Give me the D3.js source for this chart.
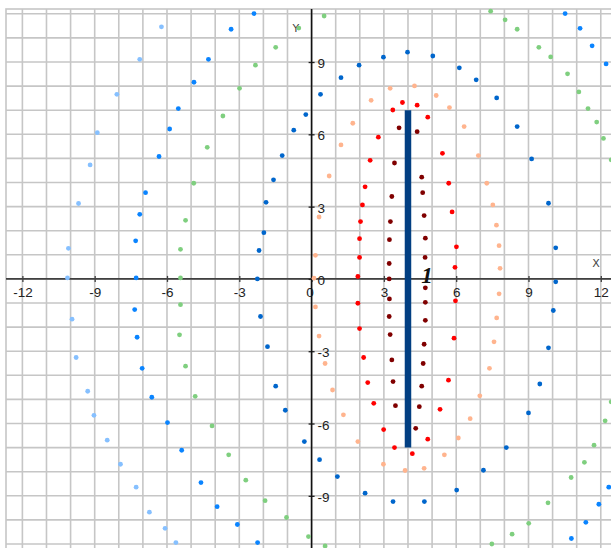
<!DOCTYPE html>
<html><head><meta charset="utf-8">
<script src="https://cdn.jsdelivr.net/npm/d3@7"></script>
<style>html,body{margin:0;padding:0;background:#fff;overflow:hidden}svg{display:block}</style>
</head><body><svg id="c" width="611" height="548"></svg>
<script>
// ---- data ----
const xTicks = [-12, -9, -6, -3, 0, 3, 6, 9, 12];
const yTicks = [-9, -6, -3, 0, 3, 6, 9];
const xTickLabels = ["-12", "-9", "-6", "-3", "0", "3", "6", "9", "12"];
const yTickLabels = ["-9", "-6", "-3", "0", "3", "6", "9"];

const darkRed = [[3.63,6.27],[3.44,4.81],[3.33,3.42],[3.27,2.38],[3.23,1.63],[3.22,0.64],[3.22,0.0],[3.23,-0.83],[3.22,-1.56],[3.26,-2.31],[3.33,-3.36],[3.38,-4.26],[3.48,-5.26],
  [4.38,6.11],[4.57,4.22],[4.61,3.58],[4.67,2.63],[4.72,1.69],[4.71,0.89],[4.72,-0.37],[4.72,-0.97],[4.72,-1.72],[4.67,-2.71],[4.63,-3.51],[4.57,-4.45],[4.47,-5.30],[4.32,-6.20]];

const red = [[3.77,7.32],[3.37,7.01],[4.38,7.21],[4.82,6.71],[2.77,5.88],[2.43,4.92],[5.43,5.21],[2.22,3.82],[5.69,3.97],[2.11,3.07],[5.83,2.78],[2.03,2.38],[1.99,1.67],[6.01,1.33],[1.99,0.89],[5.95,0.48],[1.92,0.10],
  [5.97,-0.91],[1.92,-1.01],[1.99,-2.06],[5.91,-2.46],[2.16,-3.26],[5.68,-4.20],[2.33,-4.30],[2.58,-5.16],[5.33,-5.41],[2.99,-6.25],[4.82,-6.65],[3.44,-7.00],[4.18,-7.25]];

const salmon = [[4.27,8.01],[3.26,7.91],[5.17,7.61],[2.47,7.41],[5.72,7.11],[1.71,6.46],[6.33,6.32],[1.22,5.56],[6.92,5.12],[0.73,4.27],[7.27,3.97],[7.52,3.07],[0.31,2.57],[7.67,2.23],[7.78,1.38],[0.16,0.98],[7.82,0.44],[0.10,0.03],
  [7.78,-0.62],[0.16,-1.16],[7.68,-1.62],[0.31,-2.37],[7.57,-2.61],[0.56,-3.51],[7.38,-3.71],[0.87,-4.61],[6.98,-4.85],[1.32,-5.64],[6.58,-5.80],[1.92,-6.75],[6.09,-6.60],[2.98,-7.69],[5.51,-7.30],[3.88,-7.95],[4.67,-7.86]];

const darkBlue = [[-0.24,6.82],[-0.74,6.17],[-1.22,5.12],[-1.58,4.11],[-1.89,3.18],[-1.98,1.92],[-2.18,1.18],[-2.25,0.0],
  [0.37,7.66],[1.22,8.35],[1.97,8.87],[2.98,9.20],[3.98,9.41],[5.03,9.25],[6.13,8.76],[6.83,8.26],[7.68,7.51],[8.53,6.32],[9.13,4.98],[9.83,3.14],[10.13,1.29],
  [10.13,-0.12],[10.03,-1.31],[9.83,-2.86],[9.47,-4.36],[9.00,-5.56],[8.08,-7.00],[7.13,-7.94],[6.02,-8.76],[4.68,-9.24],[3.38,-9.24],[2.22,-8.89],[1.07,-8.20],[0.33,-7.50],[-0.30,-6.75],
  [-1.09,-5.45],[-1.49,-4.45],[-1.83,-2.81],[-2.12,-1.56]];

const brightBlue = [[-2.39,11.01],[-3.34,10.36],[-4.28,9.11],[-4.88,8.16],[-5.53,7.07],[-5.89,6.22],[-6.33,5.08],[-6.89,3.58],[-7.13,2.68],[-7.30,1.58],[-7.28,0.04],
  [-7.34,-1.27],[-7.24,-2.42],[-7.03,-3.71],[-6.63,-4.91],[-5.98,-5.96],[-5.39,-7.11],[-4.59,-8.45],[-3.92,-9.45],[-3.08,-10.19],[-2.24,-10.94],
  [10.52,11.01],[11.14,10.40],[11.64,9.67],[12.22,8.92],
  [12.33,-8.64],[11.92,-9.35],[11.38,-10.10],[10.78,-10.77]];

const green = [[-0.53,10.41],[-1.49,9.61],[-2.33,8.87],[-2.99,7.91],[-3.68,6.76],[-4.33,5.46],[-4.89,3.97],[-5.23,2.43],[-5.44,1.23],[-5.44,0.04],
  [-5.44,-1.07],[-5.48,-2.32],[-5.23,-3.62],[-4.83,-4.87],[-4.13,-6.10],[-3.44,-7.30],[-2.73,-8.35],[-1.93,-9.20],[-1.04,-9.90],[-0.13,-10.69],[0.56,-11.08],
  [7.48,-11.00],[8.32,-10.59],[9.01,-10.14],[9.81,-9.29],[10.77,-8.24],[11.32,-7.61],[11.72,-6.90],[12.18,-5.89],[12.43,-5.10],
  [0.52,10.91],[7.43,11.11],[8.03,10.75],[8.53,10.36],[9.43,9.61],[9.92,9.21],[10.62,8.51],[11.09,7.76],[11.47,7.07],[11.83,6.51],[12.11,5.83],[12.43,4.94]];

const lightBlue = [[-6.23,10.46],[-7.13,9.11],[-8.08,7.66],[-8.89,6.07],[-9.19,4.73],[-9.67,3.13],[-10.09,1.27],[-10.13,0.04],
  [-9.94,-1.67],[-9.77,-3.26],[-9.29,-4.66],[-9.03,-5.66],[-8.48,-6.69],[-7.93,-7.69],[-7.28,-8.64],[-6.73,-9.68],[-6.08,-10.35],[-5.63,-10.94]];

const bar = [{x: 4, y0: -7, y1: 7}];
const barLabel = [{x: 4.55, y: -0.17, text: "1"}];
const axisTitles = [{x: 11.8, y: 0.65, text: "X"}, {x: -0.65, y: 10.4, text: "Y"}];

const series = [
  {name: "darkBlue", color: "#0066cc", pts: darkBlue},
  {name: "brightBlue", color: "#0a84ff", pts: brightBlue},
  {name: "green", color: "#7fcf7f", pts: green},
  {name: "lightBlue", color: "#86c0ff", pts: lightBlue},
  {name: "salmon", color: "#ffb48e", pts: salmon},
  {name: "red", color: "#ff0000", pts: red},
  {name: "darkRed", color: "#800000", pts: darkRed}
];

// ---- chart ----
const svg = d3.select("#c");
const unit = 24.1;
const x = d3.scaleLinear().domain([-12.68, 12.68]).range([6, 6 + 25.36 * unit]);
const y = d3.scaleLinear().domain([-11.2, 11.2]).range([9 + 22.4 * unit, 9]);

const g = svg.append("g");
// grid
g.selectAll("line.vg").data(d3.range(-12, 13)).join("line")
  .attr("x1", d => x(d)).attr("x2", d => x(d))
  .attr("y1", y(11.2)).attr("y2", y(-11.2))
  .attr("stroke", "#c6c6c6").attr("stroke-width", 1.6);
g.selectAll("line.hg").data(d3.range(-11, 12)).join("line")
  .attr("x1", x(-12.68)).attr("x2", x(12.68))
  .attr("y1", d => y(d)).attr("y2", d => y(d))
  .attr("stroke", "#c6c6c6").attr("stroke-width", 1.6);
// border
g.append("rect").attr("x", x(-12.68)).attr("y", y(11.2))
  .attr("width", x(12.68) - x(-12.68)).attr("height", y(-11.2) - y(11.2))
  .attr("fill", "none").attr("stroke", "#c6c6c6").attr("stroke-width", 1.6);

// axes
const xAxis = d3.axisBottom(x).tickValues(xTicks).tickSize(3).tickPadding(6)
  .tickFormat((d, i) => xTickLabels[i]);
const xa = g.append("g").attr("transform", `translate(0,${y(0)})`).call(xAxis);
xa.select(".domain").remove();
xa.selectAll(".tick line").attr("y1", -3).attr("stroke", "#404040").attr("stroke-width", 1.3);
xa.selectAll(".tick text").attr("font-family", "Liberation Sans, Arial, sans-serif").attr("font-size", 13.5).attr("fill", "#222");
xa.selectAll(".tick").filter(d => d === 0).select("text").attr("dx", -2);
g.append("line").attr("x1", x(-12.68)).attr("x2", x(12.68)).attr("y1", y(0)).attr("y2", y(0))
  .attr("stroke", "#404040").attr("stroke-width", 1.6);

const yAxis = d3.axisRight(y).tickValues(yTicks).tickSize(3).tickPadding(3)
  .tickFormat((d, i) => yTickLabels[i]);
const ya = g.append("g").attr("transform", `translate(${x(0)},0)`).call(yAxis);
ya.select(".domain").remove();
ya.selectAll(".tick line").attr("x1", -3).attr("stroke", "#222").attr("stroke-width", 1.3);
ya.selectAll(".tick text").attr("font-family", "Liberation Sans, Arial, sans-serif").attr("font-size", 13.5).attr("fill", "#222").attr("dy", "0.42em");
g.append("line").attr("x1", x(0)).attr("x2", x(0)).attr("y1", y(11.2)).attr("y2", y(-11.2))
  .attr("stroke", "#111").attr("stroke-width", 1.6);

// axis titles
g.selectAll("text.at").data(axisTitles).join("text")
  .attr("x", d => x(d.x)).attr("y", d => y(d.y)).attr("text-anchor", "middle")
  .attr("dominant-baseline", "central")
  .attr("font-family", "DejaVu Sans, sans-serif").attr("font-size", 11).attr("fill", "#444")
  .text(d => d.text);

// bar
g.selectAll("line.bar").data(bar).join("line")
  .attr("x1", d => x(d.x)).attr("x2", d => x(d.x))
  .attr("y1", d => y(d.y1)).attr("y2", d => y(d.y0))
  .attr("stroke", "#023f82").attr("stroke-width", 6.5);

// points
series.forEach(s => {
  g.append("g").selectAll("circle").data(s.pts).join("circle")
    .attr("cx", d => x(d[0])).attr("cy", d => y(d[1])).attr("r", 2.4)
    .attr("fill", s.color);
});

// label "1"
g.selectAll("text.bl").data(barLabel).join("text")
  .attr("x", d => x(d.x)).attr("y", d => y(d.y))
  .attr("font-family", "Liberation Serif, Times New Roman, serif")
  .attr("font-style", "italic").attr("font-weight", "bold").attr("font-size", 23).attr("fill", "#111")
  .text(d => d.text);
</script></body></html>
